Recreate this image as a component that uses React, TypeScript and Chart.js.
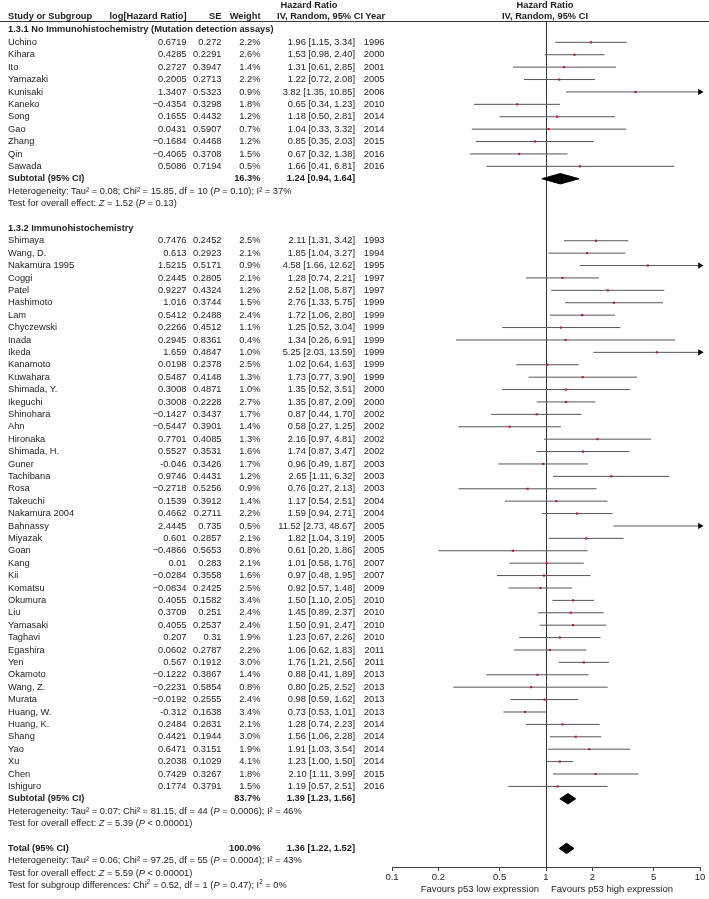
import React, { useEffect, useRef } from "react";
import { Chart, registerables } from "chart.js";

Chart.register(...registerables);

const FONT = "'Liberation Sans', Arial, Helvetica, sans-serif";
const FS = 9.3;

// ---------- 1.3.1 No Immunohistochemistry ----------
const g1Names = ["Uchino", "Kihara", "Ito", "Yamazaki", "Kunisaki", "Kaneko", "Song", "Gao", "Zhang", "Qin", "Sawada"];
const g1LogHR = ["0.6719", "0.4285", "0.2727", "0.2005", "1.3407", "\u22120.4354", "0.1655", "0.0431", "\u22120.1684", "\u22120.4065", "0.5086"];
const g1SE = ["0.272", "0.2291", "0.3947", "0.2713", "0.5323", "0.3298", "0.4432", "0.5907", "0.4468", "0.3708", "0.7194"];
const g1Weight = [2.2, 2.6, 1.4, 2.2, 0.9, 1.8, 1.2, 0.7, 1.2, 1.5, 0.5];
const g1HR = [1.96, 1.53, 1.31, 1.22, 3.82, 0.65, 1.18, 1.04, 0.85, 0.67, 1.66];
const g1Lo = [1.15, 0.98, 0.61, 0.72, 1.35, 0.34, 0.5, 0.33, 0.35, 0.32, 0.41];
const g1Hi = [3.34, 2.4, 2.85, 2.08, 10.85, 1.23, 2.81, 3.32, 2.03, 1.38, 6.81];
const g1Year = [1996, 2000, 2001, 2005, 2006, 2010, 2014, 2014, 2015, 2016, 2016];

// ---------- 1.3.2 Immunohistochemistry ----------
const g2Names = ["Shimaya", "Wang, D.", "Nakamura 1995", "Coggi", "Patel", "Hashimoto", "Lam", "Chyczewski", "Inada", "Ikeda", "Kanamoto", "Kuwahara", "Shimada, Y.", "Ikeguchi", "Shinohara", "Ahn", "Hironaka", "Shimada, H.", "Guner", "Tachibana", "Rosa", "Takeuchi", "Nakamura 2004", "Bahnassy", "Miyazak", "Goan", "Kang", "Kii", "Komatsu", "Okumura", "Liu", "Yamasaki", "Taghavi", "Egashira", "Yen", "Okamoto", "Wang, Z.", "Murata", "Huang, W.", "Huang, K.", "Shang", "Yao", "Xu", "Chen", "Ishiguro"];
const g2LogHR = ["0.7476", "0.613", "1.5215", "0.2445", "0.9227", "1.016", "0.5412", "0.2266", "0.2945", "1.659", "0.0198", "0.5487", "0.3008", "0.3008", "\u22120.1427", "\u22120.5447", "0.7701", "0.5527", "-0.046", "0.9746", "\u22120.2718", "0.1539", "0.4662", "2.4445", "0.601", "\u22120.4866", "0.01", "\u22120.0284", "\u22120.0834", "0.4055", "0.3709", "0.4055", "0.207", "0.0602", "0.567", "\u22120.1222", "\u22120.2231", "\u22120.0192", "-0.312", "0.2484", "0.4421", "0.6471", "0.2038", "0.7429", "0.1774"];
const g2SE = ["0.2452", "0.2923", "0.5171", "0.2805", "0.4324", "0.3744", "0.2488", "0.4512", "0.8361", "0.4847", "0.2378", "0.4148", "0.4871", "0.2228", "0.3437", "0.3901", "0.4085", "0.3531", "0.3426", "0.4431", "0.5256", "0.3912", "0.2711", "0.735", "0.2857", "0.5653", "0.283", "0.3558", "0.2425", "0.1582", "0.251", "0.2537", "0.31", "0.2787", "0.1912", "0.3867", "0.5854", "0.2555", "0.1638", "0.2831", "0.1944", "0.3151", "0.1029", "0.3267", "0.3791"];
const g2Weight = [2.5, 2.1, 0.9, 2.1, 1.2, 1.5, 2.4, 1.1, 0.4, 1.0, 2.5, 1.3, 1.0, 2.7, 1.7, 1.4, 1.3, 1.6, 1.7, 1.2, 0.9, 1.4, 2.2, 0.5, 2.1, 0.8, 2.1, 1.6, 2.5, 3.4, 2.4, 2.4, 1.9, 2.2, 3.0, 1.4, 0.8, 2.4, 3.4, 2.1, 3.0, 1.9, 4.1, 1.8, 1.5];
const g2HR = [2.11, 1.85, 4.58, 1.28, 2.52, 2.76, 1.72, 1.25, 1.34, 5.25, 1.02, 1.73, 1.35, 1.35, 0.87, 0.58, 2.16, 1.74, 0.96, 2.65, 0.76, 1.17, 1.59, 11.52, 1.82, 0.61, 1.01, 0.97, 0.92, 1.5, 1.45, 1.5, 1.23, 1.06, 1.76, 0.88, 0.8, 0.98, 0.73, 1.28, 1.56, 1.91, 1.23, 2.1, 1.19];
const g2Lo = [1.31, 1.04, 1.66, 0.74, 1.08, 1.33, 1.06, 0.52, 0.26, 2.03, 0.64, 0.77, 0.52, 0.87, 0.44, 0.27, 0.97, 0.87, 0.49, 1.11, 0.27, 0.54, 0.94, 2.73, 1.04, 0.2, 0.58, 0.48, 0.57, 1.1, 0.89, 0.91, 0.67, 0.62, 1.21, 0.41, 0.25, 0.59, 0.53, 0.74, 1.06, 1.03, 1.0, 1.11, 0.57];
const g2Hi = [3.42, 3.27, 12.62, 2.21, 5.87, 5.75, 2.8, 3.04, 6.91, 13.59, 1.63, 3.9, 3.51, 2.09, 1.7, 1.25, 4.81, 3.47, 1.87, 6.32, 2.13, 2.51, 2.71, 48.67, 3.19, 1.86, 1.76, 1.95, 1.48, 2.05, 2.37, 2.47, 2.26, 1.83, 2.56, 1.89, 2.52, 1.62, 1.01, 2.23, 2.28, 3.54, 1.5, 3.99, 2.51];
const g2Year = [1993, 1994, 1995, 1997, 1997, 1999, 1999, 1999, 1999, 1999, 1999, 1999, 2000, 2000, 2002, 2002, 2002, 2002, 2003, 2003, 2003, 2004, 2004, 2005, 2005, 2005, 2007, 2007, 2009, 2010, 2010, 2010, 2010, 2011, 2011, 2013, 2013, 2013, 2013, 2014, 2014, 2014, 2014, 2015, 2016];

// ---------- pooled estimates: subtotal 1.3.1, subtotal 1.3.2, total ----------
const pooledLabels = ["Subtotal (95% CI)", "Subtotal (95% CI)", "Total (95% CI)"];
const pooledWeight = [16.3, 83.7, 100.0];
const pooledHR = [1.24, 1.39, 1.36];
const pooledLo = [0.94, 1.23, 1.22];
const pooledHi = [1.64, 1.56, 1.52];

// ---------- axis ----------
const tickValues = [0.1, 0.2, 0.5, 1, 2, 5, 10];
const tickLabels = ["0.1", "0.2", "0.5", "1", "2", "5", "10"];
const X_MIN = 0.1;
const X_MAX = 10;

// row layout (row units)
const G1_HEAD = -1;
const G1_START = 0;
const SUB1 = 11;
const G2_HEAD = 15;
const G2_START = 16;
const SUB2 = 61;
const TOTAL = 65;

type Seg = [string, string];

export default function App() {
  const ref = useRef<HTMLCanvasElement>(null);

  useEffect(() => {
    const canvas = ref.current;
    if (!canvas) return;

    type Study = { name: string; logHR: string; se: string; w: number; hr: number; lo: number; hi: number; year: number; row: number };
    const studies: Study[] = [];
    g1Names.forEach((n, i) =>
      studies.push({ name: n, logHR: g1LogHR[i], se: g1SE[i], w: g1Weight[i], hr: g1HR[i], lo: g1Lo[i], hi: g1Hi[i], year: g1Year[i], row: G1_START + i })
    );
    g2Names.forEach((n, i) =>
      studies.push({ name: n, logHR: g2LogHR[i], se: g2SE[i], w: g2Weight[i], hr: g2HR[i], lo: g2Lo[i], hi: g2Hi[i], year: g2Year[i], row: G2_START + i })
    );
    const pooledRows = [SUB1, SUB2, TOTAL];

    const ciData: any[] = [];
    studies.forEach((s) => {
      ciData.push({ x: s.lo, y: s.row }, { x: s.hi, y: s.row }, { x: NaN, y: NaN });
    });
    const pointData = studies.map((s) => ({ x: s.hr, y: s.row }));
    const arrowData = studies.filter((s) => s.hi > X_MAX).map((s) => ({ x: X_MAX, y: s.row }));

    const H = 0.42;
    const diamondSets = pooledRows.map((r, i) => ({
      label: "diamond" + i,
      data: [
        { x: pooledLo[i], y: r },
        { x: pooledHR[i], y: r - H },
        { x: pooledHi[i], y: r },
        { x: pooledHR[i], y: r + H },
        { x: pooledLo[i], y: r },
      ],
      showLine: true,
      fill: "shape",
      borderColor: "#000",
      backgroundColor: "#000",
      borderWidth: 1,
      pointRadius: 0,
      tension: 0,
      order: 3,
    }));

    const tablePlugin = {
      id: "forestTable",
      afterDraw(chart: any) {
        const ctx: CanvasRenderingContext2D = chart.ctx;
        const ys = chart.scales.y;
        const Y = (r: number) => ys.getPixelForValue(r);
        ctx.save();
        ctx.fillStyle = "#1e1e1e";
        ctx.textBaseline = "middle";

        const txt = (s: string, x: number, y: number, align: CanvasTextAlign = "left", bold = false, size = FS) => {
          ctx.font = `${bold ? "bold " : ""}${size}px ${FONT}`;
          ctx.textAlign = align;
          ctx.fillText(s, x, y);
        };
        const fontFor = (k: string, size: number) =>
          k === "i" ? `italic ${size}px ${FONT}` : k === "b" ? `bold ${size}px ${FONT}` : k === "s" ? `${size * 0.68}px ${FONT}` : `${size}px ${FONT}`;
        const rich = (segs: Seg[], x: number, y: number, size = FS) => {
          ctx.textAlign = "left";
          let cx = x;
          segs.forEach(([t, k]) => {
            ctx.font = fontFor(k, size);
            ctx.fillText(t, cx, k === "s" ? y - size * 0.33 : y);
            cx += ctx.measureText(t).width;
          });
        };

        const NAME_X = 8, LOG_X = 186.5, SE_X = 221.5, W_X = 260.5, CI_X = 355, YEAR_X = 384.5;
        const PLOT_C = 545;

        // header
        const yh1 = Y(-3.0);
        const yh2 = Y(-2.1);
        txt("Hazard Ratio", 309, yh1, "center", true);
        txt("Hazard Ratio", PLOT_C, yh1, "center", true);
        txt("Study or Subgroup", NAME_X, yh2, "left", true);
        txt("log[Hazard Ratio]", LOG_X, yh2, "right", true);
        txt("SE", SE_X, yh2, "right", true);
        txt("Weight", W_X, yh2, "right", true);
        txt("IV, Random, 95% CI", 363, yh2, "right", true);
        txt("Year", YEAR_X + 0.5, yh2, "right", true);
        txt("IV, Random, 95% CI", PLOT_C, yh2, "center", true);

        // header rule
        const ca = chart.chartArea;
        ctx.strokeStyle = "#3a3a3a";
        ctx.lineWidth = 1;
        ctx.beginPath();
        ctx.moveTo(0, Math.round(ca.top) + 0.5);
        ctx.lineTo(709, Math.round(ca.top) + 0.5);
        ctx.stroke();

        // group headings
        txt("1.3.1 No Immunohistochemistry (Mutation detection assays)", NAME_X, Y(G1_HEAD), "left", true);
        txt("1.3.2 Immunohistochemistry", NAME_X, Y(G2_HEAD), "left", true);

        // study rows
        studies.forEach((s) => {
          const y = Y(s.row);
          txt(s.name, NAME_X, y);
          txt(s.logHR, LOG_X, y, "right");
          txt(s.se, SE_X, y, "right");
          txt(s.w.toFixed(1) + "%", W_X, y, "right");
          txt(`${s.hr.toFixed(2)} [${s.lo.toFixed(2)}, ${s.hi.toFixed(2)}]`, CI_X, y, "right");
          txt(String(s.year), YEAR_X, y, "right");
        });

        // pooled rows
        pooledRows.forEach((r, i) => {
          const y = Y(r);
          txt(pooledLabels[i], NAME_X, y, "left", true);
          txt(pooledWeight[i].toFixed(1) + "%", W_X, y, "right", true);
          txt(`${pooledHR[i].toFixed(2)} [${pooledLo[i].toFixed(2)}, ${pooledHi[i].toFixed(2)}]`, CI_X, y, "right", true);
        });

        // heterogeneity / tests
        rich([["Heterogeneity: Tau\u00b2 = 0.08; Chi\u00b2 = 15.85, df = 10 (", "n"], ["P", "i"], [" = 0.10); I\u00b2 = 37%", "n"]], NAME_X, Y(SUB1 + 1));
        rich([["Test for overall effect: ", "n"], ["Z", "i"], [" = 1.52 (", "n"], ["P", "i"], [" = 0.13)", "n"]], NAME_X, Y(SUB1 + 2));
        rich([["Heterogeneity: Tau\u00b2 = 0.07; Chi\u00b2 = 81.15, df = 44 (", "n"], ["P", "i"], [" = 0.0006); I\u00b2 = 46%", "n"]], NAME_X, Y(SUB2 + 1));
        rich([["Test for overall effect: ", "n"], ["Z", "i"], [" = 5.39 (", "n"], ["P", "i"], [" < 0.00001)", "n"]], NAME_X, Y(SUB2 + 2));
        rich([["Heterogeneity: Tau\u00b2 = 0.06; Chi\u00b2 = 97.25, df = 55 (", "n"], ["P", "i"], [" = 0.0004); I\u00b2 = 43%", "n"]], NAME_X, Y(TOTAL + 1));
        rich([["Test for overall effect: ", "n"], ["Z", "i"], [" = 5.59 (", "n"], ["P", "i"], [" < 0.00001)", "n"]], NAME_X, Y(TOTAL + 2));
        rich(
          [["Test for subgroup differences: Chi", "n"], ["2", "s"], [" = 0.52, df = 1 (", "n"], ["P", "i"], [" = 0.47); I", "n"], ["2", "s"], [" = 0%", "n"]],
          NAME_X,
          Y(TOTAL + 3)
        );

        // favours labels
        const xs = chart.scales.x;
        const x1 = xs.getPixelForValue(1);
        const yf = ca.bottom + 22;
        txt("Favours p53 low expression", x1 - 7, yf, "right", false, 9.5);
        txt("Favours p53 high expression", x1 + 5, yf, "left", false, 9.5);

        ctx.restore();
      },
    };

    const chart = new Chart(canvas, {
      type: "scatter",
      data: {
        datasets: [
          {
            label: "estimate",
            data: pointData,
            pointStyle: "rect",
            pointRadius: 1.5,
            pointHoverRadius: 1.5,
            backgroundColor: "#c8102e",
            borderWidth: 0,
            order: 0,
          } as any,
          {
            label: "arrow",
            data: arrowData,
            pointStyle: "triangle",
            rotation: 90,
            pointRadius: 3.6,
            backgroundColor: "#000",
            borderColor: "#000",
            borderWidth: 0,
            clip: false,
            order: 1,
          },
          {
            label: "ci",
            data: ciData,
            showLine: true,
            spanGaps: false,
            borderColor: "#555",
            borderWidth: 1,
            pointRadius: 0,
            order: 2,
          },
          ...diamondSets,
        ],
      },
      options: {
        responsive: false,
        animation: false,
        devicePixelRatio: 1,
        layout: { padding: { left: 392, right: 9, top: 21, bottom: 0 } },
        plugins: { legend: { display: false }, tooltip: { enabled: false } },
        events: [],
        scales: {
          x: {
            type: "logarithmic",
            position: "bottom",
            min: X_MIN,
            max: X_MAX,
            afterBuildTicks: (s: any) => {
              s.ticks = tickValues.map((v) => ({ value: v }));
            },
            afterFit: (s: any) => {
              s.height = 32;
            },
            ticks: {
              autoSkip: false,
              maxRotation: 0,
              minRotation: 0,
              padding: 1,
              color: "#222",
              font: { family: FONT, size: 9.5 },
              callback: (_v: any, i: number) => tickLabels[i],
            },
            grid: {
              color: (c: any) => (c.tick && c.tick.value === 1 ? "#333" : "rgba(0,0,0,0)"),
              tickColor: "#444",
              tickLength: 4,
              lineWidth: 1,
            },
            border: { display: true, color: "#444", width: 1 },
          },
          y: {
            type: "linear",
            reverse: true,
            min: -1.72,
            max: 66.5,
            display: false,
          },
        },
      } as any,
      plugins: [tablePlugin],
    });

    return () => chart.destroy();
  }, []);

  return (
    <div style={{ position: "absolute", left: 0, top: 0, width: 709, height: 899, background: "#fff" }}>
      <canvas ref={ref} width={709} height={899} style={{ display: "block", width: 709, height: 899 }} />
    </div>
  );
}
